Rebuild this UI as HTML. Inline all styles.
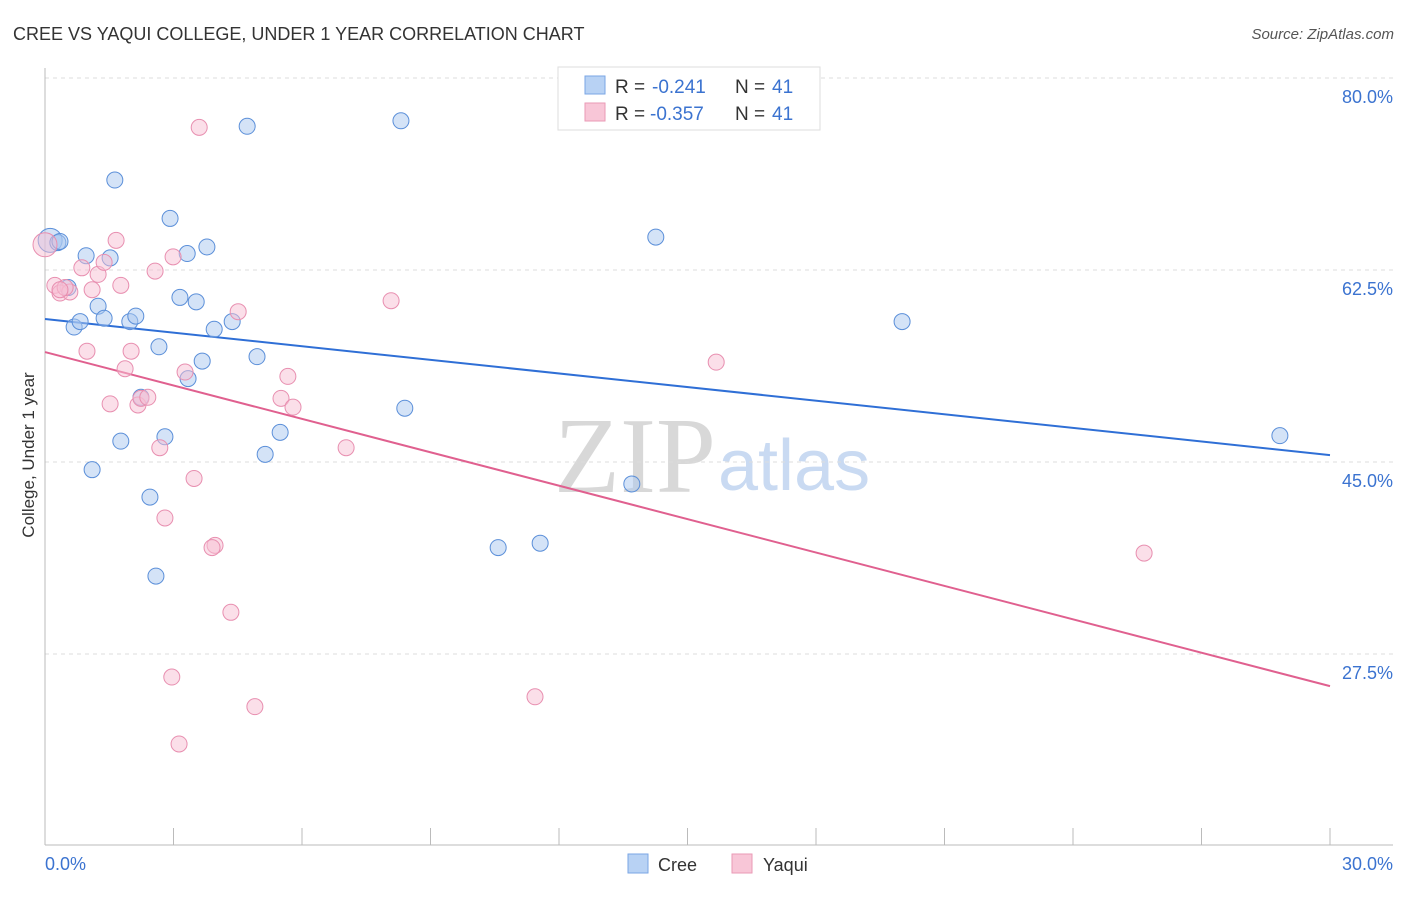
<!DOCTYPE html>
<html><head><meta charset="utf-8"><style>
body{margin:0;background:#fff;font-family:"Liberation Sans",sans-serif}
svg text{font-family:"Liberation Sans",sans-serif}
</style></head><body>
<svg id="chart" width="1406" height="892">
<text x="13" y="40" font-size="18" fill="#333">CREE VS YAQUI COLLEGE, UNDER 1 YEAR CORRELATION CHART</text>
<text x="1394" y="39" font-size="15" fill="#555" font-style="italic" text-anchor="end">Source: ZipAtlas.com</text>
<text x="716" y="492" font-size="108" fill="#d8d8d8" text-anchor="end" style="font-family:'Liberation Serif',serif">ZIP</text>
<text x="718" y="490" font-size="72" fill="#c9daf2">atlas</text>
<text transform="translate(34,455) rotate(-90)" font-size="17" fill="#333" text-anchor="middle">College, Under 1 year</text>
<g id="grid"></g><g id="axes"></g><g id="lines"></g><g id="pts"></g>
<g>
<rect x="558" y="67" width="262" height="63" fill="#fff" stroke="#ddd"/>
<rect x="585" y="76" width="20" height="18" fill="#b8d2f4" stroke="#7aa6e4"/>
<text x="615" y="93" font-size="19" fill="#333">R =</text>
<text x="652" y="93" font-size="19" fill="#3b73d0">-0.241</text>
<text x="735" y="93" font-size="19" fill="#333">N =</text>
<text x="772" y="93" font-size="19" fill="#3b73d0">41</text>
<rect x="585" y="103" width="20" height="18" fill="#f8c6d7" stroke="#ea9ab6"/>
<text x="615" y="120" font-size="19" fill="#333">R =</text>
<text x="650" y="120" font-size="19" fill="#3b73d0">-0.357</text>
<text x="735" y="120" font-size="19" fill="#333">N =</text>
<text x="772" y="120" font-size="19" fill="#3b73d0">41</text>
</g>
<g>
<rect x="628" y="854" width="20" height="19" fill="#b8d2f4" stroke="#7aa6e4"/>
<text x="658" y="871" font-size="18" fill="#333">Cree</text>
<rect x="732" y="854" width="20" height="19" fill="#f8c6d7" stroke="#ea9ab6"/>
<text x="763" y="871" font-size="18" fill="#333">Yaqui</text>
</g>
</svg>
<script>
const creeX=[0.12,0.30,0.35,1.63,2.92,4.72,8.31,0.96,1.52,3.32,3.78,0.54,1.24,3.15,3.53,0.68,0.82,1.38,1.98,2.12,3.95,4.37,2.66,3.67,4.95,3.34,2.24,8.40,1.77,2.80,5.49,5.14,1.10,2.45,2.59,10.58,11.56,13.70,14.26,20.01,28.83];
const creeY=[65.2,65.0,65.1,70.7,67.2,75.6,76.1,63.8,63.6,64.0,64.6,60.9,59.2,60.0,59.6,57.3,57.8,58.1,57.8,58.3,57.1,57.8,55.5,54.2,54.6,52.6,50.9,49.9,46.9,47.3,47.7,45.7,44.3,41.8,34.6,37.2,37.6,43.0,65.5,57.8,47.4];
const yaquiX=[0,0.23,0.35,0.58,0.47,1.66,0.86,1.24,1.38,1.10,1.77,2.57,2.99,3.60,4.51,8.08,0.98,2.01,1.87,1.52,2.17,2.24,2.40,3.27,5.67,5.51,5.79,7.03,2.68,3.48,2.80,3.97,3.90,4.34,2.96,4.90,3.13,11.44,15.67,25.66,0.35];
const yaquiY=[64.8,61.1,60.4,60.5,60.9,65.2,62.7,62.1,63.2,60.7,61.1,62.4,63.7,75.5,58.7,59.7,55.1,55.1,53.5,50.3,50.2,50.8,50.9,53.2,52.8,50.8,50.0,46.3,46.3,43.5,39.9,37.4,37.2,31.3,25.4,22.7,19.3,23.6,54.1,36.7,60.7];
const creeTrend=[58.03,45.63];
const yaquiTrend=[55.02,24.57];
const yTicks=[80,62.5,45,27.5];
const yTickLabels=["80.0%","62.5%","45.0%","27.5%"];
const NS="http://www.w3.org/2000/svg";
const sx=v=>45+v/30*1285;
const sy=v=>78+(80-v)/17.5*192;
function mk(tag,attrs,parent){const e=document.createElementNS(NS,tag);for(const k in attrs)e.setAttribute(k,attrs[k]);document.getElementById(parent).appendChild(e);return e;}
yTicks.forEach((t,i)=>{
 const g=mk('line',{x1:45,x2:1393,y1:sy(t),y2:sy(t),stroke:'#ddd','stroke-dasharray':'4,4'},'grid');
 
 
 const tx=mk('text',{x:1393,y:sy(t)+25,'font-size':18,fill:'#3b73d0','text-anchor':'end'},'grid');
 tx.textContent=yTickLabels[i];
 
 
});
let a=mk('line',{x1:45,x2:45,y1:68,y2:845,stroke:'#bbb'},'axes');


a=mk('line',{x1:45,x2:1393,y1:845,y2:845,stroke:'#bbb'},'axes');


for(let i=0;i<=10;i++){const t=mk('line',{x1:sx(i*3),x2:sx(i*3),y1:828,y2:845,stroke:'#bbb'},'axes');
 
 }
let l=mk('text',{x:45,y:870,'font-size':18,fill:'#3b73d0'},'axes');l.textContent='0.0%';


l=mk('text',{x:1393,y:870,'font-size':18,fill:'#3b73d0','text-anchor':'end'},'axes');l.textContent='30.0%';


function pts(X,Y,fill,stroke,name){X.forEach((x,i)=>{const c=mk('circle',{cx:sx(x),cy:sy(Y[i]),r:(i===0?12:8),fill:fill,'fill-opacity':0.5,stroke:stroke,'stroke-width':1},'pts');
 
 });}
pts(creeX,creeY,'#a9c8f0','#5b8fd9','cree-point');
pts(yaquiX,yaquiY,'#f7c0d3','#e88fb0','yaqui-point');
let t=mk('line',{x1:sx(0),y1:sy(creeTrend[0]),x2:sx(30),y2:sy(creeTrend[1]),stroke:'#2f6fd6','stroke-width':2},'lines');


t=mk('line',{x1:sx(0),y1:sy(yaquiTrend[0]),x2:sx(30),y2:sy(yaquiTrend[1]),stroke:'#e0608f','stroke-width':2},'lines');


</script>
</body></html>
